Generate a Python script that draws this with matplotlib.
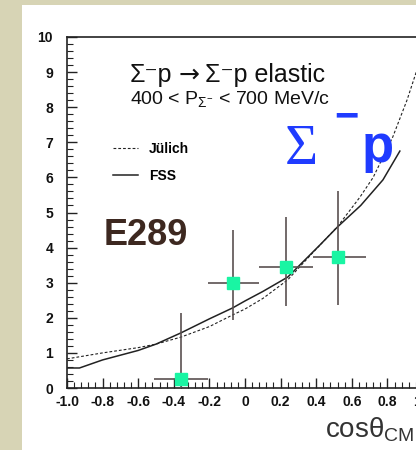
import matplotlib
matplotlib.use('Agg')
import numpy as np
import matplotlib.pyplot as plt
from matplotlib import font_manager
from matplotlib.patches import Rectangle
from matplotlib.ticker import MultipleLocator

# Data
cos_fss = [-1.0, -0.93, -0.8, -0.6, -0.5, -0.36, -0.2, -0.07, 0.0, 0.1,
           0.24, 0.42, 0.52, 0.65, 0.775, 0.87]
dsdo_fss = [0.57, 0.57, 0.8, 1.07, 1.25, 1.57, 1.97, 2.28, 2.48, 2.75,
            3.16, 4.07, 4.59, 5.2, 5.93, 6.75]

cos_jul = [-1.0, -0.8, -0.6, -0.5, -0.36, -0.2, -0.07, 0.0, 0.1, 0.24,
           0.38, 0.52, 0.646, 0.72, 0.83, 0.91, 0.96, 1.0]
dsdo_jul = [0.83, 1.0, 1.15, 1.25, 1.45, 1.75, 2.08, 2.25, 2.55, 3.08,
            3.85, 4.6, 5.44, 6.0, 7.15, 8.2, 8.97, 9.6]

pts_x = [-0.36, -0.07, 0.23, 0.52]
pts_y = [0.25, 3.0, 3.44, 3.73]
pts_x_lo = [-0.51, -0.21, 0.08, 0.38]
pts_x_hi = [-0.21, 0.08, 0.38, 0.68]
pts_y_lo = [0.0, 1.94, 2.34, 2.36]
pts_y_hi = [2.14, 4.5, 4.87, 5.61]

x_ticks = [-1.0, -0.8, -0.6, -0.4, -0.2, 0.0, 0.2, 0.4, 0.6, 0.8, 1.0]
x_tick_labels = ['-1.0', '-0.8', '-0.6', '-0.4', '-0.2', '0', '0.2', '0.4',
                 '0.6', '0.8', '1.0']
y_ticks = list(range(0, 11))

names = {f.name for f in font_manager.fontManager.ttflist}
sans = 'Liberation Sans' if 'Liberation Sans' in names else 'DejaVu Sans'
serif = 'Liberation Serif' if 'Liberation Serif' in names else 'DejaVu Serif'

plt.rcParams['font.family'] = [sans, 'DejaVu Sans']
plt.rcParams['mathtext.fontset'] = 'custom'
plt.rcParams['mathtext.rm'] = sans
plt.rcParams['mathtext.it'] = sans + ':italic'
plt.rcParams['mathtext.bf'] = sans + ':bold'

beige = '#d7d4b5'
blue = '#1f3bff'
green = '#19f5a3'
err_col = '#5a5050'

fig = plt.figure(figsize=(4.16, 4.5), dpi=100, facecolor=beige)
fig.patches.append(Rectangle((22 / 416, 0), 1, 445 / 450, facecolor='white',
                             edgecolor='none', transform=fig.transFigure,
                             zorder=-5))

ax = fig.add_axes([67 / 416, 62 / 450, 356 / 416, 351 / 450])
ax.set_facecolor('white')
ax.set_zorder(2)

ax.plot(cos_jul, dsdo_jul, color='#222222', linestyle=(0, (2.5, 1.8)),
        linewidth=0.8, label='Jülich', clip_on=False)
ax.plot(cos_fss, dsdo_fss, color='#222222', linestyle='-',
        linewidth=1.1, label='FSS')

px = np.array(pts_x)
py = np.array(pts_y)
xerr = [px - np.array(pts_x_lo), np.array(pts_x_hi) - px]
yerr = [py - np.array(pts_y_lo), np.array(pts_y_hi) - py]
ax.errorbar(px, py, xerr=xerr, yerr=yerr, fmt='none', ecolor=err_col,
            elinewidth=1.2, capsize=0, zorder=3)
ax.plot(px, py, 's', color=green, markersize=8.5, zorder=4, clip_on=False)

ax.set_xlim(-1.0, 1.0)
ax.set_ylim(0, 10)
ax.set_xticks(x_ticks)
ax.set_xticklabels(x_tick_labels)
ax.set_yticks(y_ticks)
ax.xaxis.set_minor_locator(MultipleLocator(0.04))
ax.yaxis.set_minor_locator(MultipleLocator(0.2))
ax.tick_params(which='both', direction='in', colors='#222222',
               labelcolor='#111111')
ax.tick_params(which='major', length=7, width=1.0)
ax.tick_params(which='minor', length=4, width=0.8)
ax.tick_params(axis='x', pad=5, labelsize=10)
ax.tick_params(axis='y', pad=10, labelsize=10)
for lab in ax.get_xticklabels() + ax.get_yticklabels():
    lab.set_fontweight('bold')
for sp in ax.spines.values():
    sp.set_color('#222222')
    sp.set_linewidth(1.2)

# Title, first line in three pieces so the arrow can come from DejaVu
fig.canvas.draw()
renderer = fig.canvas.get_renderer()
title_parts = [('Σ⁻p', [sans, 'DejaVu Sans'], 0.0),
               ('→', ['DejaVu Sans'], 6),
               ('Σ⁻p elastic', [sans, 'DejaVu Sans'], 5)]
x_px = ax.transData.transform((-0.646, 8.72))
for txt, fam, gap in title_parts:
    x_px = x_px + np.array([gap, 0])
    x_data = ax.transData.inverted().transform(x_px)
    t = ax.text(x_data[0], 8.72, txt, fontsize=18, family=fam,
                color='#111111', ha='left', va='baseline')
    bb = t.get_window_extent(renderer)
    x_px = np.array([bb.x1, x_px[1]])

ax.text(-0.646, 8.1, r'400 < P$_{\Sigma^{-}}$ < 700 MeV/c', fontsize=14,
        color='#111111', ha='left', va='baseline')

ax.legend(loc='upper left', bbox_to_anchor=(0.109, 0.722), frameon=False,
          borderpad=0, handlelength=1.8, handletextpad=0.8,
          labelspacing=0.95, prop={'family': sans, 'weight': 'bold',
                                   'size': 10})

ax.text(-0.792, 4.07, 'E289', fontsize=26, fontweight='bold',
        color='#3d2820', ha='left', va='baseline')

# Big blue label
ax.text(0.225, 6.38, 'Σ', fontsize=41, family=serif, color=blue,
        ha='left', va='baseline')
ax.text(0.50, 7.72, '−', fontsize=30, fontweight='bold', color=blue,
        ha='left', va='center')
ax.text(0.655, 6.45, 'p', fontsize=38, fontweight='bold', color=blue,
        ha='left', va='baseline', clip_on=False)

fig.text(415 / 416, 1 - 438 / 450, r'cosθ$_{\mathrm{CM}}$', fontsize=20,
         color='#333333', ha='right', va='baseline')

fig.savefig('out.png', dpi=100, facecolor=beige)
